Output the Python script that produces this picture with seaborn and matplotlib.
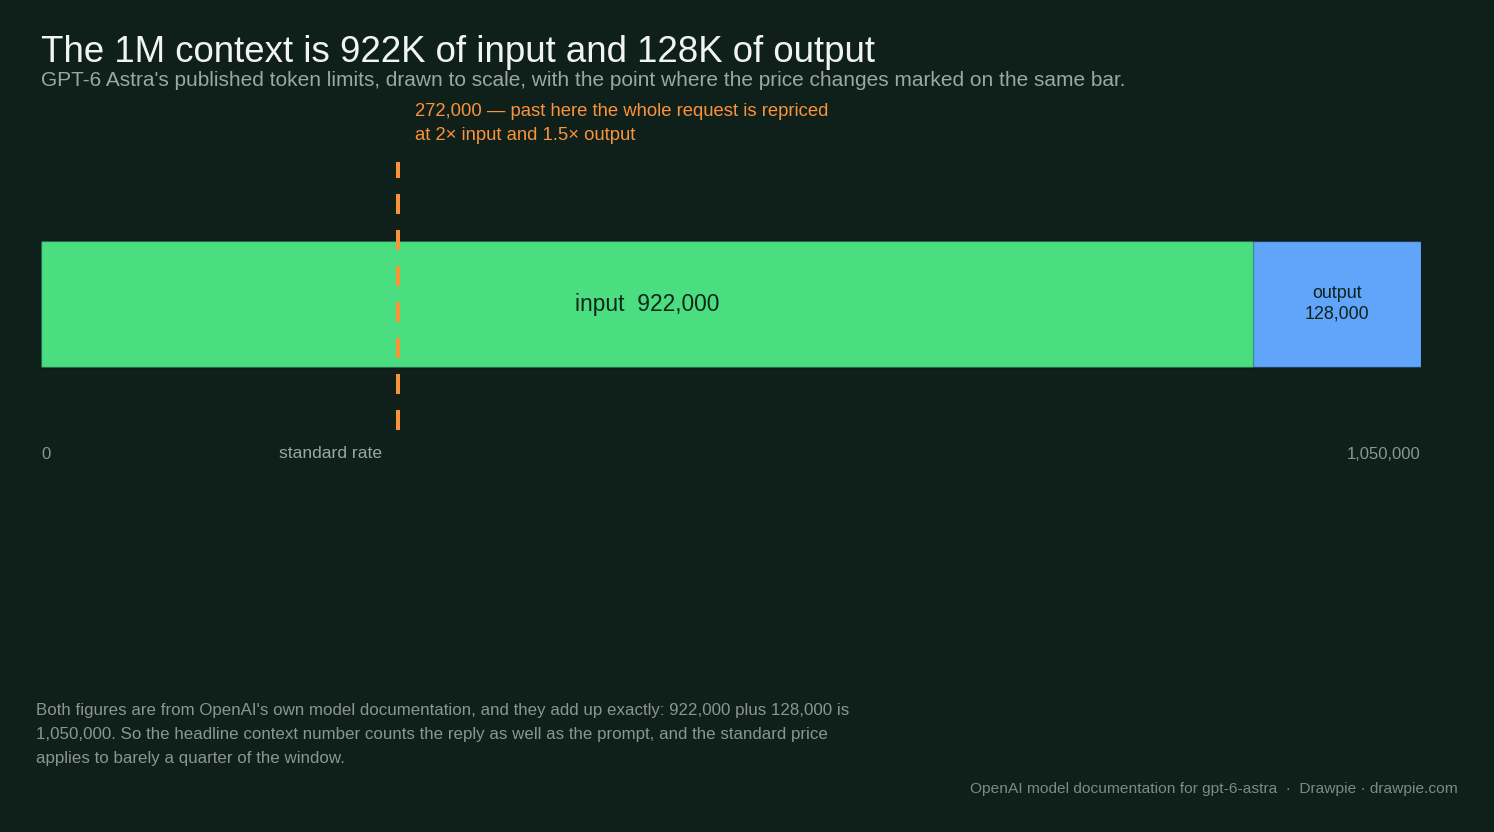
import matplotlib
matplotlib.use("Agg")
import matplotlib.pyplot as plt
import seaborn as sns
import pandas as pd

# ---- data ----
segments = ["input", "output"]
segment_values = [922000, 128000]
total_tokens = 1050000
price_threshold = 272000
axis_tick_values = [0, 1050000]
axis_tick_labels = ["0", "1,050,000"]

BG = "#0f1f1a"
GREEN = "#4ade80"
BLUE = "#60a5fa"
ORANGE = "#fb923c"

sns.set_theme(style="dark")
plt.rcParams["font.family"] = ["Liberation Sans", "DejaVu Sans"]

fig = plt.figure(figsize=(14.94, 8.32), dpi=100, facecolor=BG)
W, H = 1494, 832
ax = fig.add_axes([41 / W, 1 - 430 / H, 1380 / W, 268 / H])
ax.set_facecolor(BG)

df_total = pd.DataFrame({"row": ["tokens"], "value": [sum(segment_values)]})
df_input = pd.DataFrame({"row": ["tokens"], "value": [segment_values[0]]})

sns.barplot(data=df_total, x="value", y="row", orient="h", color=BLUE,
            saturation=1, width=0.8, edgecolor=(0, 0, 0, 0.35), linewidth=1, ax=ax)
sns.barplot(data=df_input, x="value", y="row", orient="h", color=GREEN,
            saturation=1, width=0.8, edgecolor=(0, 0, 0, 0.25), linewidth=1, ax=ax)

ax.set_xlim(0, total_tokens)
ax.set_ylim(0.8, -0.9016)
ax.axvline(price_threshold, color=ORANGE, lw=2.88, dashes=(5, 4), zorder=5)

for s in ax.spines.values():
    s.set_visible(False)
ax.set_xticks([])
ax.set_yticks([])
ax.set_xlabel("")
ax.set_ylabel("")

# bar labels
ax.text(segment_values[0] / 2, 0, f"{segments[0]}  {segment_values[0]:,}",
        ha="center", va="center", fontsize=16.4, color="#10261a")
ax.text(segment_values[0] + segment_values[1] / 2, 0,
        f"{segments[1]}\n{segment_values[1]:,}", ha="center", va="center",
        fontsize=12.9, color="#10221c", linespacing=1.3)

# axis labels under bar
ax.text(axis_tick_values[0], -0.09, axis_tick_labels[0], transform=ax.get_xaxis_transform(),
        ha="left", va="center", fontsize=12, color="#8a968f")
ax.text(axis_tick_values[1], -0.09, axis_tick_labels[1], transform=ax.get_xaxis_transform(),
        ha="right", va="center", fontsize=12, color="#8a968f")
fig.text(382 / W, 1 - 454 / H, "standard rate", ha="right", va="center",
         fontsize=12.6, color="#9aa8a0")

# annotation
fig.text(415 / W, 1 - 112 / H,
         f"{price_threshold:,} \u2014 past here the whole request is repriced",
         ha="left", va="center", fontsize=13.3, color=ORANGE)
fig.text(415 / W, 1 - 136 / H, "at 2\u00d7 input and 1.5\u00d7 output",
         ha="left", va="center", fontsize=13.3, color=ORANGE)

# titles
fig.text(41 / W, 1 - 52 / H, "The 1M context is 922K of input and 128K of output",
         ha="left", va="center", fontsize=26.4, color="#f2f4f3")
fig.text(41 / W, 1 - 81 / H,
         "GPT-6 Astra's published token limits, drawn to scale, with the point where the price changes marked on the same bar.",
         ha="left", va="center", fontsize=15, color="#9aa8a0")

# footnote
fig.text(36 / W, 1 - 711 / H,
         "Both figures are from OpenAI's own model documentation, and they add up exactly: 922,000 plus 128,000 is",
         ha="left", va="center", fontsize=12.2, color="#8a968f")
fig.text(36 / W, 1 - 735 / H,
         "1,050,000. So the headline context number counts the reply as well as the prompt, and the standard price",
         ha="left", va="center", fontsize=12.2, color="#8a968f")
fig.text(36 / W, 1 - 759 / H, "applies to barely a quarter of the window.",
         ha="left", va="center", fontsize=12.2, color="#8a968f")
fig.text(1458 / W, 1 - 789 / H,
         "OpenAI model documentation for gpt-6-astra  \u00b7  Drawpie \u00b7 drawpie.com",
         ha="right", va="center", fontsize=11.15, color="#7d8a83")

fig.savefig("out.png", dpi=100, facecolor=BG)
